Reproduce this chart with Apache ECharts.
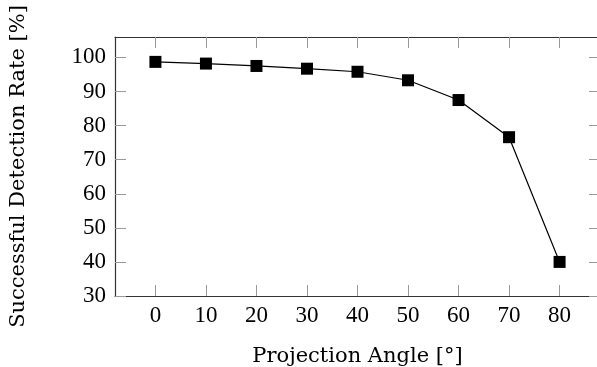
<!DOCTYPE html>
<html>
<head>
<meta charset="utf-8">
<script src="https://cdn.jsdelivr.net/npm/echarts@6/dist/echarts.min.js"></script>
<style>
  html, body { margin: 0; padding: 0; background: #fff; }
  #chart { width: 597px; height: 367px; }
</style>
</head>
<body>
<div id="chart"></div>
<script>
// Data
const angles = [0, 10, 20, 30, 40, 50, 60, 70, 80];
const detectionRate = [98.7, 98.2, 97.5, 96.7, 95.8, 93.3, 87.5, 76.6, 40.0];
const yTicks = [30, 40, 50, 60, 70, 80, 90, 100];

const xTitle = 'Projection Angle [°]';
const yTitle = 'Successful Detection Rate [%]';

const font = '"Liberation Serif", serif';
const titleFont = '"DejaVu Serif", serif';
const axisColor = '#333';
const tickColor = '#999';

const chart = echarts.init(document.getElementById('chart'));

const baseX = {
  type: 'value',
  min: -8,
  max: 88,
  splitLine: { show: false },
  axisLine: { show: true, onZero: false, lineStyle: { color: axisColor, width: 1.2 } },
  axisTick: { show: true, inside: true, length: 11, customValues: angles, lineStyle: { color: tickColor, width: 1 } }
};
const baseY = {
  type: 'value',
  min: 30,
  max: 106,
  splitLine: { show: false },
  axisLine: { show: true, onZero: false, lineStyle: { color: axisColor, width: 1.2 } },
  axisTick: { show: true, inside: true, length: 11, customValues: yTicks, lineStyle: { color: tickColor, width: 1 } }
};

const option = {
  backgroundColor: '#fff',
  animation: false,
  grid: { left: 115, right: -3, top: 37, bottom: 71, containLabel: false, outerBoundsMode: 'none' },
  xAxis: [
    Object.assign({}, baseX, {
      position: 'bottom',
      name: xTitle,
      nameLocation: 'middle',
      nameGap: 50,
      nameTextStyle: { fontFamily: titleFont, fontSize: 21, color: '#000' },
      axisLabel: { customValues: angles, fontFamily: font, fontSize: 23, color: '#000', margin: 8 }
    }),
    Object.assign({}, baseX, {
      position: 'top',
      axisLabel: { show: false }
    })
  ],
  yAxis: [
    Object.assign({}, baseY, {
      position: 'left',
      name: yTitle,
      nameLocation: 'middle',
      nameRotate: 90,
      nameGap: 86,
      nameTextStyle: { fontFamily: titleFont, fontSize: 21, color: '#000' },
      axisLabel: { customValues: yTicks, fontFamily: font, fontSize: 23, color: '#000', margin: 9 }
    }),
    Object.assign({}, baseY, {
      position: 'right',
      axisLabel: { show: false }
    })
  ],
  series: [
    {
      type: 'line',
      data: angles.map((a, i) => [a, detectionRate[i]]),
      symbol: 'rect',
      symbolSize: 12,
      showSymbol: true,
      lineStyle: { color: '#000', width: 1.2 },
      itemStyle: { color: '#000' }
    }
  ]
};

chart.setOption(option);
</script>
</body>
</html>
